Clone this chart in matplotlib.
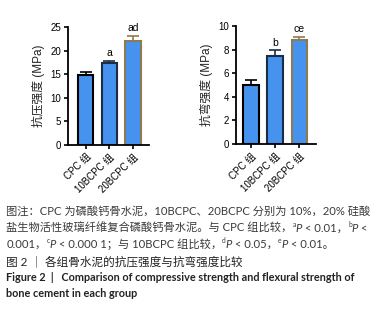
import matplotlib
matplotlib.use("Agg")
import matplotlib.pyplot as plt
import numpy as np

plt.rcParams['font.family'] = ['Liberation Sans', 'Noto Sans CJK SC', 'DejaVu Sans']
plt.rcParams['axes.unicode_minus'] = False

# data
groups = ['CPC 组', '10BCPC 组', '20BCPC 组']
comp_mean = [14.9, 17.3, 22.0]
comp_err = [0.5, 0.6, 1.2]
comp_sig = ['', 'a', 'ad']
flex_mean = [5.0, 7.5, 8.8]
flex_err = [0.4, 0.45, 0.3]
flex_sig = ['', 'b', 'ce']

bar_color = '#4593ef'
edge_colors = ['#000000', '#1c2c44', '#8c7a52']

fig = plt.figure(figsize=(3.83, 3.11), dpi=100)


def draw_panel(rect, means, errs, sigs, ymax, ystep, ylabel, xlim):
    ax = fig.add_axes(rect)
    x = np.arange(len(means))
    for i in range(len(means)):
        ax.bar(x[i], means[i], width=0.64, color=bar_color,
               edgecolor=edge_colors[i], linewidth=1.5, zorder=2)
        ax.errorbar(x[i], means[i], yerr=[[0], [errs[i]]], fmt='none',
                    ecolor=edge_colors[i], elinewidth=1.2, capsize=4,
                    capthick=1.2, zorder=1)
        if sigs[i]:
            ax.text(x[i], means[i] + errs[i] + ymax * 0.02, sigs[i],
                    ha='center', va='bottom', fontsize=7.5)
    ax.set_xlim(*xlim)
    ax.set_ylim(0, ymax)
    ax.set_yticks(np.arange(0, ymax + 0.01, ystep))
    ax.set_xticks(x)
    ax.set_xticklabels(groups, rotation=45, ha='right', rotation_mode='anchor',
                       fontsize=7)
    ax.tick_params(axis='y', labelsize=7, length=3, width=1.2, pad=2)
    ax.tick_params(axis='x', length=3, width=1.2, pad=2)
    for s in ['top', 'right']:
        ax.spines[s].set_visible(False)
    for s in ['left', 'bottom']:
        ax.spines[s].set_linewidth(1.3)
    ax.set_ylabel(ylabel, fontsize=8.5, labelpad=4, color='#222222')
    return ax


draw_panel([0.1775, 0.534, 0.2115, 0.379], comp_mean, comp_err, comp_sig,
           25, 5, '抗压强度 (MPa)', (-0.74, 2.67))
draw_panel([0.616, 0.537, 0.209, 0.379], flex_mean, flex_err, flex_sig,
           10, 2, '抗弯强度 (MPa)', (-0.62, 2.68))

cap_font = ['Lato', 'Noto Sans CJK SC', 'DejaVu Sans']
cap_color = '#3a3a3a'
fs = 8.1


def fy(px):
    return 1 - px / 311


def put_line(x, y, pieces):
    # pieces: (text, kind) with kind '', 'sup' or 'it'; each piece starts
    # where the previous one ends
    prev = None
    for s, kind in pieces:
        size = fs * 0.6 if kind == 'sup' else fs
        style = 'italic' if kind == 'it' else 'normal'
        dy = 3.5 if kind == 'sup' else 0
        if prev is None:
            prev = fig.text(x, y, s, fontsize=size, family=cap_font,
                            color=cap_color, va='baseline', ha='left')
        else:
            prev = fig.add_artist(matplotlib.text.Annotation(
                s, xy=(1, y), xycoords=(prev, 'figure fraction'),
                xytext=(0, dy), textcoords='offset points',
                fontsize=size, family=cap_font, style=style,
                color=cap_color, va='baseline', ha='left',
                annotation_clip=False))


put_line(0.016, fy(215), [('图注：CPC 为磷酸钙骨水泥，10BCPC、20BCPC 分别为 10%，20% 硅酸', '')])
put_line(0.016, fy(232), [('盐生物活性玻璃纤维复合磷酸钙骨水泥。与 CPC 组比较，', ''),
                          ('a', 'sup'), ('P', 'it'), (' < 0.01，', ''),
                          ('b', 'sup'), ('P', 'it'), (' <', '')])
put_line(0.016, fy(248), [('0.001，', ''), ('c', 'sup'), ('P', 'it'),
                          (' < 0.000 1；与 10BCPC 组比较，', ''),
                          ('d', 'sup'), ('P', 'it'), (' < 0.05，', ''),
                          ('e', 'sup'), ('P', 'it'), (' < 0.01。', '')])
fig.text(0.016, fy(265), '图 2 ｜ 各组骨水泥的抗压强度与抗弯强度比较', fontsize=8.4,
         family=cap_font, color='#222222', va='baseline')
fig.text(0.016, fy(281), 'Figure 2  |   Comparison of compressive strength and flexural strength of',
         fontsize=7.8, family=['Lato', 'DejaVu Sans'], weight='bold',
         color='#222222', va='baseline')
fig.text(0.016, fy(297), 'bone cement in each group',
         fontsize=7.8, family=['Lato', 'DejaVu Sans'], weight='bold',
         color='#222222', va='baseline')

fig.savefig('out.png', dpi=100)
